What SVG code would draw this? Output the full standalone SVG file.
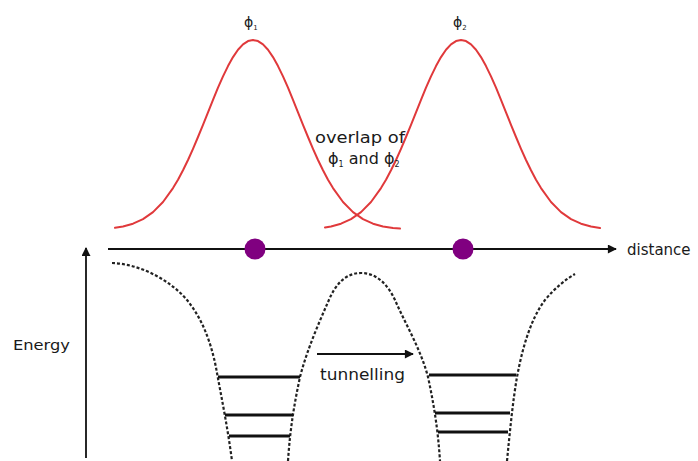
<svg xmlns="http://www.w3.org/2000/svg" width="698" height="461" viewBox="0 0 698 461">
<defs>
<style>
.wave{fill:none;stroke:#e0393b;stroke-width:2;stroke-linejoin:round;stroke-linecap:round}
.pot{fill:none;stroke:#222;stroke-width:2.2;stroke-dasharray:3 2}
.lvl{stroke:#111;stroke-width:3}
.ax{stroke:#111;stroke-width:1.8;fill:none}
.t{font-family:"DejaVu Sans","Liberation Sans",sans-serif;fill:#1a1a1a}
.dot{fill:#800080}
</style>
<marker id="ah2" viewBox="0 0 10 10" refX="9" refY="5" markerWidth="16" markerHeight="9" markerUnits="userSpaceOnUse" orient="auto">
<path d="M0,0 L10,5 L0,10 Z" fill="#111"/>
</marker>
</defs>
<rect width="698" height="461" fill="#fff"/>
<g id="wave1">
<polyline class="wave" points="115,227.8 123,226.5 133,223.7 143,219.1 153,212.1 163,202 173,188.1 178,179.7 183,170.3 188,160 193,148.8 198,137 203,124.8 208,112.3 213,99.8 218,87.7 223,76.4 228,66.1 233,57.1 238,49.8 243,44.4 248,41.1 253,40 258,41.1 263,44.4 268,49.8 273,57.1 278,66.1 283,76.4 288,87.7 293,99.8 298,112.3 303,124.8 308,137 313,148.8 318,160 323,170.3 328,179.7 333,188.1 343,202 353,212.1 363,219.1 373,223.7 383,226.5 393,228.1 400,228.6"/>
<text class="t" x="244" y="27" font-size="14">ϕ<tspan font-size="7" dy="3">1</tspan></text>
</g>
<g id="wave2">
<polyline class="wave" points="325,227.6 331,226.5 341,223.7 351,219.1 361,212.1 371,202 381,188.1 386,179.7 391,170.3 396,160 401,148.8 406,137 411,124.8 416,112.3 421,99.8 426,87.7 431,76.4 436,66.1 441,57.1 446,49.8 451,44.4 456,41.1 461,40 466,41.1 471,44.4 476,49.8 481,57.1 486,66.1 491,76.4 496,87.7 501,99.8 506,112.3 511,124.8 516,137 521,148.8 526,160 531,170.3 536,179.7 541,188.1 551,202 561,212.1 571,219.1 581,223.7 591,226.5 600,228"/>
<text class="t" x="453" y="27" font-size="14">ϕ<tspan font-size="7" dy="3">2</tspan></text>
</g>
<g id="overlap-label">
<text class="t" x="360" y="143" font-size="16" text-anchor="middle" textLength="90" lengthAdjust="spacingAndGlyphs">overlap of</text>
<text class="t" x="328" y="164" font-size="16">ϕ<tspan font-size="8" dy="3">1</tspan><tspan dy="-3"> and ϕ</tspan><tspan font-size="8" dy="3">2</tspan></text>
</g>
<g id="connectors">
<line class="ax" x1="108" y1="249" x2="616" y2="249" marker-end="url(#ah2)"/>
<line class="ax" x1="86" y1="458" x2="86" y2="248" marker-end="url(#ah2)"/>
<line class="ax" x1="317" y1="354" x2="413" y2="354" marker-end="url(#ah2)"/>
</g>
<g id="atoms">
<circle class="dot" cx="255" cy="249" r="10.5"/>
<circle class="dot" cx="463" cy="249" r="10.5"/>
</g>
<g id="potential">
<path class="pot" d="M112,263 C140,264 170,280 187,300 C205,322 213,350 217,373 C222,400 228,430 232,461"/>
<path class="pot" d="M288,461 C290,430 294,405 300,377 C307,350 318,325 328,302 C335,285 345,273 361,273 C377,273 388,285 395,300 C406,325 421,350 428,377 C434,405 438,430 440,461"/>
<path class="pot" d="M507,461 C510,430 513,400 517,377 C522,350 530,320 545,300 C555,288 565,280 575,274"/>
</g>
<g id="levels">
<line class="lvl" x1="218" y1="377" x2="300" y2="377"/>
<line class="lvl" x1="225" y1="415" x2="293" y2="415"/>
<line class="lvl" x1="229" y1="436" x2="290" y2="436"/>
<line class="lvl" x1="429" y1="375" x2="516" y2="375"/>
<line class="lvl" x1="435" y1="413" x2="510" y2="413"/>
<line class="lvl" x1="438" y1="432" x2="508" y2="432"/>
</g>
<g id="labels">
<text class="t" x="627" y="255" font-size="15">distance</text>
<text class="t" x="13" y="350" font-size="14" textLength="57" lengthAdjust="spacingAndGlyphs">Energy</text>
<text class="t" x="320" y="380" font-size="15" textLength="85" lengthAdjust="spacingAndGlyphs">tunnelling</text>
</g>
</svg>
